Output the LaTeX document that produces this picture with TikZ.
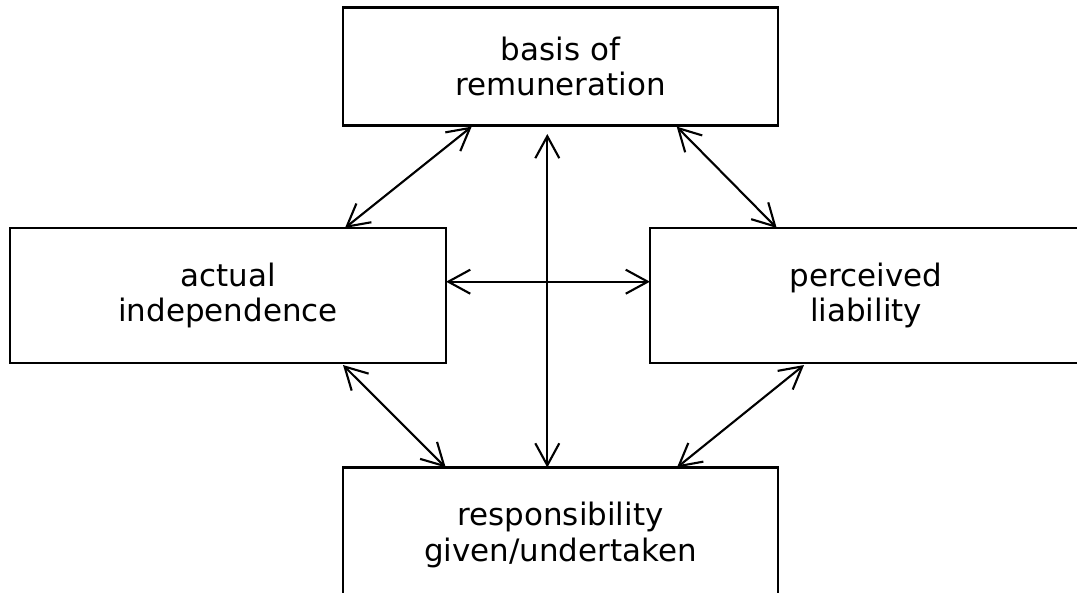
\documentclass[tikz,border=0pt]{standalone}
\usepackage{fontspec}
\setmainfont{DejaVu Sans}
\usepackage{tikz}
\usetikzlibrary{positioning,calc,arrows.meta}

\tikzset{
    factor/.style={draw, line width=2pt, outer sep=0pt, align=center,
        font=\fontsize{22}{25}\selectfont},
    link/.style={<->, >={Straight Barb[length=5.5mm,width=6mm]}, line width=1.5pt}
}

\begin{document}
\begin{tikzpicture}[x=0.025cm, y=-0.025cm]
    \path [use as bounding box, clip] (0, 0) rectangle (1077, 592);

    % Factors
    \node [factor, minimum width=10.875cm, minimum height=2.95cm] (basis) at (560.5, 66.6) {basis of\\remuneration};
    \node [factor, minimum width=10.9cm, minimum height=3.375cm] (indep) at (228, 295.5) {actual\\independence};
    \node [factor, minimum width=10.8cm, minimum height=3.375cm] (liab) at (866, 295.5) {perceived\\liability};
    \node [factor, minimum width=10.875cm, minimum height=3.375cm] (resp) at (560.5, 535) {responsibility\\given/undertaken};

    % Links
    \draw [link] ($(basis.south)+(-88.8, 1)$) -- ($(indep.north)+(117, 0)$);
    \draw [link] ($(basis.south)+(116.2, 1)$) -- ($(liab.north)+(-89.3, 0)$);
    \draw [link] ($(basis.south)+(-13.2, 8.4)$) -- ($(resp.north)+(-13.2, 0)$);
    \draw [link] ($(indep.east)+(0, -13.8)$) -- ($(liab.west)+(0, -13.8)$);
    \draw [link] ($(indep.south)+(115, 2)$) -- ($(resp.north)+(-114.8, 0)$);
    \draw [link] ($(liab.south)+(-62, 2)$) -- ($(resp.north)+(116.5, 0)$);
\end{tikzpicture}
\end{document}
